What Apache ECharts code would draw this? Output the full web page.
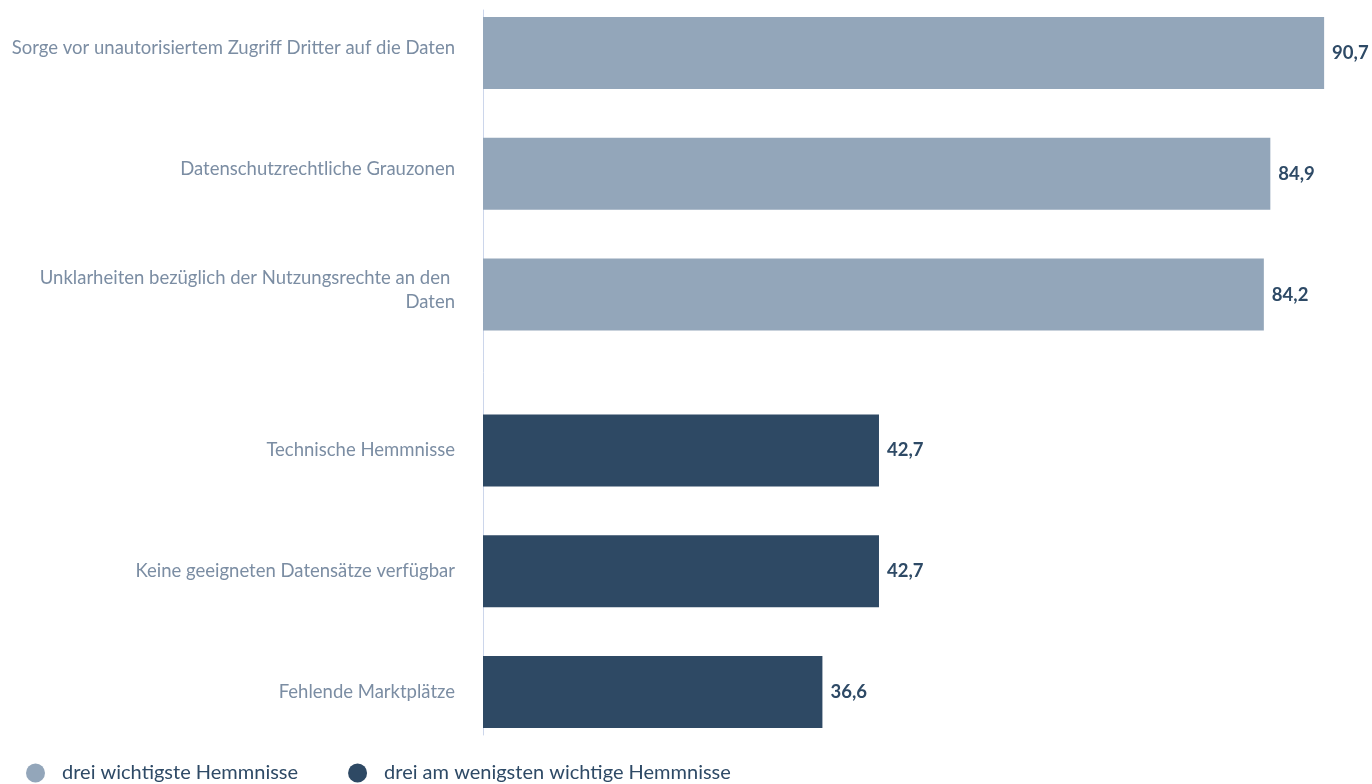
<!DOCTYPE html>
<html><head><meta charset="utf-8">
<script src="https://cdn.jsdelivr.net/npm/echarts@6/dist/echarts.min.js"></script>
<style>html,body{margin:0;padding:0;background:#fff}#c{width:1372px;height:784px}</style>
</head><body><div id="c"></div>
<script>
const categories = [
  'Sorge vor unautorisiertem Zugriff Dritter auf die Daten',
  'Datenschutzrechtliche Grauzonen',
  'Unklarheiten bezüglich der Nutzungsrechte an den Daten',
  'Technische Hemmnisse',
  'Keine geeigneten Datensätze verfügbar',
  'Fehlende Marktplätze'
];
const seriesNames = ['drei wichtigste Hemmnisse', 'drei am wenigsten wichtige Hemmnisse'];
const topValues = [90.7, 84.9, 84.2, null, null, null];
const bottomValues = [null, null, null, 42.7, 42.7, 36.6];

const FONT = 'Lato';
const chart = echarts.init(document.getElementById('c'), null, {renderer: 'canvas'});
const valueLabel = {
  show: true, position: 'right', distance: 8,
  fontFamily: FONT, fontWeight: 'bold', fontSize: 18.5, color: '#2e4a66',
  formatter: p => p.value == null ? '' : p.value.toFixed(1).replace('.', ',')
};
// zero-length helper bars carry the category names, centred on each bar
function nameHelper(values, stack, dy) {
  return {
    type: 'bar', stack: stack, barWidth: 72, silent: true,
    data: values.map(v => v == null ? null : 0),
    itemStyle: {color: 'rgba(0,0,0,0)'},
    label: {
      show: true, position: 'left', distance: 28, offset: [0, dy],
      fontFamily: FONT, fontSize: 18.5, color: '#7b8da3',
      width: 450, overflow: 'break', lineHeight: 24, align: 'right',
      formatter: p => p.value == null ? '' : categories[p.dataIndex]
    }
  };
}
chart.setOption({
  animation: false,
  grid: {left: 483, right: 8, top: 10, bottom: 49, containLabel: false},
  xAxis: {type: 'value', min: 0, max: 95, show: false},
  yAxis: {
    type: 'category', data: categories, inverse: true,
    axisLine: {show: true, lineStyle: {color: '#ccd6eb', width: 1}},
    axisTick: {show: false}, axisLabel: {show: false}
  },
  legend: {
    left: 21, top: 758, icon: 'circle', itemWidth: 19, itemHeight: 19, itemGap: 50,
    textStyle: {fontFamily: FONT, fontSize: 20, color: '#2e4a66', padding: [0, 0, 0, 12]},
    data: seriesNames
  },
  series: [
    nameHelper(topValues, 'a', -5),
    {name: seriesNames[0], type: 'bar', stack: 'a', data: topValues, barWidth: 72, barGap: '-51.4%',
     itemStyle: {color: '#93a6ba'}, label: valueLabel},
    nameHelper(bottomValues, 'b', 0),
    {name: seriesNames[1], type: 'bar', stack: 'b', data: bottomValues, barWidth: 72,
     itemStyle: {color: '#2e4964'}, label: valueLabel}
  ]
});
</script></body></html>
